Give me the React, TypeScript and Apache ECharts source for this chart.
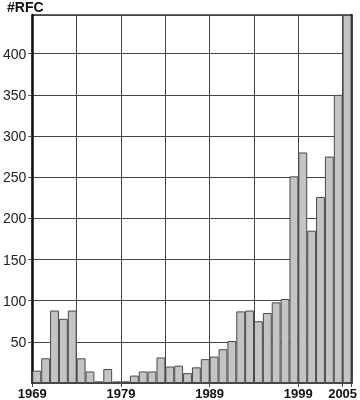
import React, { useEffect, useRef } from "react";
import * as echarts from "echarts";

const years: string[] = [
  "1969","1970","1971","1972","1973","1974","1975","1976","1977","1978",
  "1979","1980","1981","1982","1983","1984","1985","1986","1987","1988",
  "1989","1990","1991","1992","1993","1994","1995","1996","1997","1998",
  "1999","2000","2001","2002","2003","2004",
];
const rfcCounts: number[] = [
  15, 30, 88, 78, 88, 30, 14, 2, 17, 2,
  2, 9, 14, 14, 31, 20, 21, 12, 19, 29,
  32, 41, 51, 87, 88, 75, 85, 98, 102, 251,
  280, 185, 226, 275, 350, 447,
];
// tick labels shown at band starts (index -> text)
const xTickIndex: number[] = [0, 10, 20, 30, 35];
const xTickText: string[] = ["1969", "1979", "1989", "1999", "2005"];
const yMax = 447;
const yInterval = 50;

export default function App() {
  const ref = useRef<HTMLDivElement>(null);
  useEffect(() => {
    if (!ref.current) return;
    const chart = echarts.init(ref.current, null, { renderer: "svg" });
    const showTick = (i: number) => xTickIndex.indexOf(i) >= 0;
    chart.setOption({
      animation: false,
      textStyle: { fontFamily: "Liberation Sans" },
      title: {
        text: "#RFC",
        left: 7,
        top: 0,
        padding: 0,
        textStyle: { fontSize: 14, fontWeight: "bold", color: "#111", fontFamily: "Liberation Sans" },
      },
      grid: {
        left: 30,
        right: 6.5,
        top: 15,
        bottom: 15.5,
        show: true,
        borderColor: "#333",
        borderWidth: 1.5,
        backgroundColor: "transparent",
      },
      xAxis: {
        type: "category",
        data: years,
        boundaryGap: true,
        axisLine: { show: false },
        axisTick: {
          show: true,
          interval: (i: number) => showTick(i),
          length: 4,
          lineStyle: { color: "#444", width: 1 },
        },
        axisLabel: {
          interval: (i: number) => showTick(i),
          margin: 4,
          formatter: (_v: string, i: number) => {
            const k = xTickIndex.indexOf(i);
            return k >= 0 ? `{l|${xTickText[k]}}` : "";
          },
          rich: {
            l: {
              fontSize: 13,
              fontWeight: "bold",
              color: "#111",
              fontFamily: "Liberation Sans",
              padding: [0, 9, 0, 0],
            },
          },
        },
        splitLine: {
          show: true,
          interval: 4,
          lineStyle: { color: "#444", width: 1 },
        },
      },
      yAxis: [
        {
          type: "value",
          min: 0,
          max: yMax,
          interval: yInterval,
          position: "left",
          axisLine: { show: true, lineStyle: { color: "#111", width: 2.5 } },
          axisTick: { show: true, length: 4, lineStyle: { color: "#444" } },
          axisLabel: {
            showMinLabel: false,
            showMaxLabel: false,
            fontSize: 14,
            color: "#222",
            margin: 6,
            fontFamily: "Liberation Sans",
          },
          splitLine: { show: true, lineStyle: { color: "#444", width: 1 } },
        },
        {
          type: "value",
          min: 0,
          max: yMax,
          interval: yInterval,
          position: "right",
          axisLine: { show: true, lineStyle: { color: "#222", width: 2.5 } },
          axisTick: { show: false },
          axisLabel: { show: false },
          splitLine: { show: false },
        },
      ],
      series: [
        {
          type: "bar",
          data: rfcCounts,
          yAxisIndex: 0,
          barCategoryGap: "0%",
          itemStyle: { color: "#c4c4c4", borderColor: "#4a4a4a", borderWidth: 1 },
        },
      ],
    });
    return () => chart.dispose();
  }, []);
  return (
    <div
      ref={ref}
      style={{ position: "fixed", left: 0, top: 0, width: 360, height: 400 }}
    />
  );
}
